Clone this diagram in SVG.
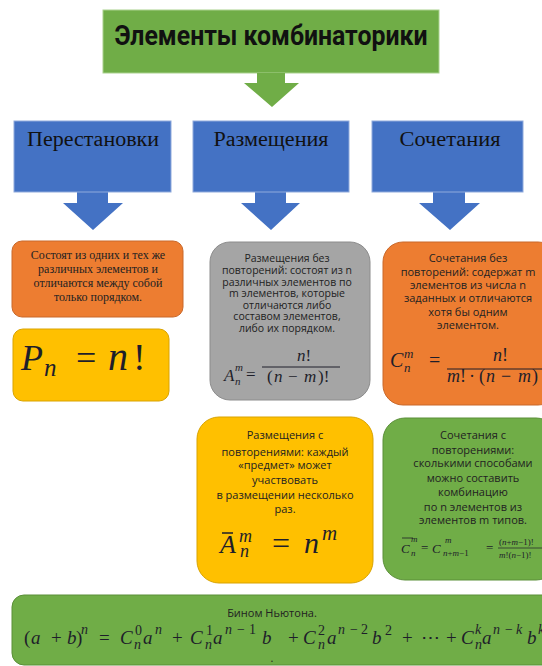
<svg xmlns="http://www.w3.org/2000/svg" width="542" height="666" viewBox="0 0 542 666">
<style>
.hd{font-family:"Liberation Serif","Times New Roman",serif;font-size:20px;fill:#111;text-anchor:middle}
.sr{font-family:"Liberation Serif","Times New Roman",serif;font-size:12px;fill:#222;text-anchor:middle}
.ss{font-family:"Open Sans","Liberation Sans",sans-serif;font-size:11px;fill:#222;text-anchor:middle}
.sg{font-family:"Open Sans","Liberation Sans",sans-serif;font-size:10.5px;fill:#222;text-anchor:middle}
.mi{font-family:"Liberation Serif","Times New Roman",serif;font-style:italic;fill:#1e1e2a}
.mu{font-family:"Liberation Serif","Times New Roman",serif;font-style:normal;fill:#1e1e2a}
.blue{fill:#4472C4;stroke:#8FAADC;stroke-width:1}
.arrB{fill:#4472C4}
</style>
<rect width="542" height="666" fill="#ffffff"/>

<g id="title">
<rect x="103" y="10" width="336" height="63" fill="#70AD47" stroke="#A9D18E" stroke-width="1"/>
<text x="271" y="45" font-family="Roboto,'DejaVu Sans',sans-serif" font-weight="bold" font-size="28" fill="#111" text-anchor="middle" textLength="313" lengthAdjust="spacingAndGlyphs">Элементы комбинаторики</text>
</g>

<g id="connectors">
<polygon points="257,73 285,73 285,83 299,83 272,107 244,83 257,83" fill="#70AD47"/>
<polygon class="arrB" points="77,192 108,192 108,203 123,203 93,230 63,203 77,203"/>
<polygon class="arrB" points="255,192 286,192 286,203 300,203 271,230 241,203 255,203"/>
<polygon class="arrB" points="433,192 465,192 465,203 480,203 450,230 419,203 433,203"/>
</g>

<g id="perestanovki">
<rect class="blue" x="14" y="121" width="157" height="71"/>
<text class="hd" x="93" y="146" textLength="132" lengthAdjust="spacingAndGlyphs">Перестановки</text>
</g>
<g id="razmeshcheniya">
<rect class="blue" x="193" y="121" width="156" height="71"/>
<text class="hd" x="271" y="146" textLength="115" lengthAdjust="spacingAndGlyphs">Размещения</text>
</g>
<g id="sochetaniya">
<rect class="blue" x="372" y="121" width="151" height="71"/>
<text class="hd" x="450" y="146" textLength="101" lengthAdjust="spacingAndGlyphs">Сочетания</text>
</g>

<g id="perest-def">
<rect x="12" y="241" width="171" height="76" rx="10" fill="#ED7D31" stroke="#C9682A" stroke-width="1"/>
<text class="sr" x="98" y="259">Состоят из одних и тех же</text>
<text class="sr" x="98" y="273">различных элементов и</text>
<text class="sr" x="98" y="287">отличаются между собой</text>
<text class="sr" x="98" y="301">только порядком.</text>
</g>

<g id="perest-formula">
<rect x="13" y="329" width="156" height="72" rx="10" fill="#FFC000" stroke="#D9A300" stroke-width="1"/>
<text class="mi" x="21" y="370" font-size="36">P</text>
<text class="mi" x="44" y="376" font-size="25">n</text>
<text class="mu" x="76" y="370" font-size="36">=</text>
<text class="mi" x="108" y="370" font-size="40">n</text>
<text class="mu" x="133" y="370" font-size="38">!</text>
</g>

<g id="razm-bez">
<rect x="210" y="242" width="160" height="158" rx="20" fill="#A5A5A5" stroke="#8C8C8C" stroke-width="1"/>
<text class="sg" x="287" y="262">Размещения без</text>
<text class="sg" x="287" y="274">повторений: состоят из n</text>
<text class="sg" x="287" y="286">различных элементов по</text>
<text class="sg" x="287" y="297">m элементов, которые</text>
<text class="sg" x="287" y="309">отличаются либо</text>
<text class="sg" x="287" y="320">составом элементов,</text>
<text class="sg" x="287" y="332">либо их порядком.</text>
<text class="mi" x="224" y="381" font-size="17">A</text>
<text class="mi" x="235" y="371" font-size="11">m</text>
<text class="mi" x="235" y="385" font-size="11">n</text>
<text class="mu" x="246" y="380" font-size="17">=</text>
<line x1="262" y1="367" x2="340" y2="367" stroke="#1e1e2a" stroke-width="1"/>
<text class="mi" x="297" y="361" font-size="17">n<tspan class="mu">!</tspan></text>
<text font-size="17" y="382"><tspan class="mu" x="267">(</tspan><tspan class="mi" x="274">n</tspan><tspan class="mu" x="288">−</tspan><tspan class="mi" x="304">m</tspan><tspan class="mu" x="318">)!</tspan></text>
</g>

<g id="soch-bez">
<rect x="383" y="242" width="175" height="163" rx="20" fill="#ED7D31" stroke="#C9682A" stroke-width="1"/>
<text class="ss" x="468" y="262">Сочетания без</text>
<text class="ss" x="468" y="276">повторений: содержат m</text>
<text class="ss" x="468" y="289">элементов из числа n</text>
<text class="ss" x="468" y="302">заданных и отличаются</text>
<text class="ss" x="468" y="316">хотя бы одним</text>
<text class="ss" x="468" y="329">элементом.</text>
<text class="mi" x="390" y="367" font-size="20">C</text>
<text class="mi" x="404" y="358" font-size="13">m</text>
<text class="mi" x="404" y="372" font-size="13">n</text>
<text class="mu" x="429" y="367" font-size="20">=</text>
<line x1="447" y1="369" x2="542" y2="369" stroke="#1e1e2a" stroke-width="1"/>
<text class="mi" x="493" y="361" font-size="18">n<tspan class="mu">!</tspan></text>
<text font-size="18" y="382"><tspan class="mi" x="447">m</tspan><tspan class="mu" x="460">!</tspan><tspan class="mu" x="469">·</tspan><tspan class="mu" x="479">(</tspan><tspan class="mi" x="486">n</tspan><tspan class="mu" x="501">−</tspan><tspan class="mi" x="518">m</tspan><tspan class="mu" x="532">)</tspan></text>
</g>

<g id="razm-s">
<rect x="197" y="417" width="176" height="166" rx="22" fill="#FFC000" stroke="#D9A300" stroke-width="1"/>
<text class="ss" x="285" y="439">Размещения с</text>
<text class="ss" x="285" y="456">повторениями: каждый</text>
<text class="ss" x="285" y="469">«предмет» может</text>
<text class="ss" x="285" y="484">участвовать</text>
<text class="ss" x="285" y="499">в размещении несколько</text>
<text class="ss" x="285" y="513">раз.</text>
<text class="mi" x="220" y="553" font-size="26">A</text>
<line x1="222" y1="533" x2="233" y2="533" stroke="#1e1e2a" stroke-width="1.5"/>
<text class="mi" x="239" y="542" font-size="18">m</text>
<text class="mi" x="240" y="557" font-size="18">n</text>
<text class="mu" x="272" y="554" font-size="32">=</text>
<text class="mi" x="304" y="553" font-size="30">n</text>
<text class="mi" x="322" y="540" font-size="21">m</text>
</g>

<g id="soch-s">
<rect x="383" y="418" width="175" height="162" rx="22" fill="#70AD47" stroke="#5A8F38" stroke-width="1"/>
<text class="ss" x="473" y="439">Сочетания с</text>
<text class="ss" x="473" y="454">повторениями:</text>
<text class="ss" x="473" y="467">сколькими способами</text>
<text class="ss" x="473" y="482">можно составить</text>
<text class="ss" x="473" y="496">комбинацию</text>
<text class="ss" x="473" y="511">по n элементов из</text>
<text class="ss" x="473" y="524">элементов m типов.</text>
<text class="mi" x="401" y="553" font-size="13">C</text>
<line x1="402" y1="538" x2="413" y2="538" stroke="#1e1e2a" stroke-width="0.8"/>
<text class="mi" x="411" y="542" font-size="9">m</text>
<text class="mi" x="411" y="556" font-size="9">n</text>
<text class="mu" x="421" y="552" font-size="13">=</text>
<text class="mi" x="432" y="553" font-size="13">C</text>
<text class="mi" x="445" y="543" font-size="9">m</text>
<text class="mi" x="443" y="556" font-size="9">n<tspan class="mu">+</tspan>m<tspan class="mu">−1</tspan></text>
<text class="mu" x="486" y="552" font-size="13">=</text>
<line x1="498" y1="548" x2="542" y2="548" stroke="#1e1e2a" stroke-width="0.7"/>
<text class="mu" x="499" y="545" font-size="9">(<tspan class="mi">n</tspan>+<tspan class="mi">m</tspan>−1)!</text>
<text class="mu" x="499" y="558" font-size="9"><tspan class="mi">m</tspan>!(<tspan class="mi">n</tspan>−1)!</text>
</g>

<g id="binom">
<rect x="12" y="595" width="545" height="70" rx="12" fill="#70AD47" stroke="#5A8F38" stroke-width="1"/>
<text class="ss" x="272" y="617">Бином Ньютона.</text>
<text font-size="19" y="644"><tspan class="mu" x="24">(</tspan><tspan class="mi" x="31">a</tspan><tspan class="mu" x="51">+</tspan><tspan class="mi" x="67">b</tspan><tspan class="mu" x="76">)</tspan><tspan class="mi" x="81" y="634" font-size="14">n</tspan><tspan class="mu" x="99" y="644">=</tspan><tspan class="mi" x="120">C</tspan><tspan class="mu" x="135" y="635" font-size="14">0</tspan><tspan class="mi" x="134" y="649" font-size="14">n</tspan><tspan class="mi" x="143" y="644">a</tspan><tspan class="mi" x="155" y="634" font-size="14">n</tspan><tspan class="mu" x="172" y="644">+</tspan><tspan class="mi" x="190">C</tspan><tspan class="mu" x="206" y="635" font-size="14">1</tspan><tspan class="mi" x="205" y="649" font-size="14">n</tspan><tspan class="mi" x="213" y="644">a</tspan><tspan class="mi" x="225" y="634" font-size="14">n</tspan><tspan class="mu" x="237" y="634" font-size="14">−</tspan><tspan class="mu" x="249" y="634" font-size="14">1</tspan><tspan class="mi" x="262" y="644">b</tspan><tspan class="mu" x="288">+</tspan><tspan class="mi" x="303">C</tspan><tspan class="mu" x="318" y="635" font-size="14">2</tspan><tspan class="mi" x="318" y="649" font-size="14">n</tspan><tspan class="mi" x="327" y="644">a</tspan><tspan class="mi" x="338" y="634" font-size="14">n</tspan><tspan class="mu" x="350" y="634" font-size="14">−</tspan><tspan class="mu" x="361" y="634" font-size="14">2</tspan><tspan class="mi" x="372" y="644">b</tspan><tspan class="mu" x="385" y="635" font-size="14">2</tspan><tspan class="mu" x="402" y="644">+</tspan><tspan class="mu" x="421">⋯</tspan><tspan class="mu" x="446">+</tspan><tspan class="mi" x="461">C</tspan><tspan class="mi" x="475" y="634" font-size="14">k</tspan><tspan class="mi" x="475" y="649" font-size="14">n</tspan><tspan class="mi" x="482" y="644">a</tspan><tspan class="mi" x="493" y="634" font-size="14">n</tspan><tspan class="mu" x="505" y="634" font-size="14">−</tspan><tspan class="mi" x="516" y="634" font-size="14">k</tspan><tspan class="mi" x="527" y="644">b</tspan><tspan class="mi" x="538" y="634" font-size="14">k</tspan></text>
<text class="ss" x="272" y="662" font-size="9">.</text>
</g>
</svg>
